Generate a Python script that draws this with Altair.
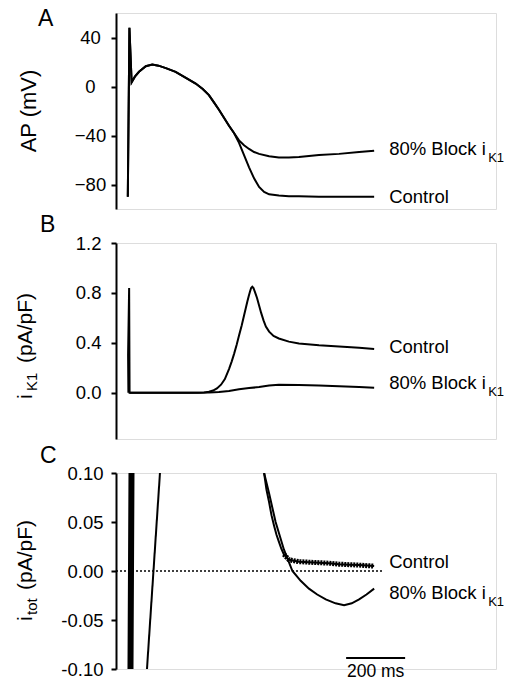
import altair as alt
import pandas as pd

FONT = "Liberation Sans"

# ---------------- data (time in ms after stimulus) ----------------
# Panel A: action potential (mV)
AP_T = [-4, 1.5, 9, 20, 34, 57, 79, 100, 125, 158, 190, 226, 250, 271, 288, 305, 322, 339, 356]
AP_V = [-90, 48, 3.5, 8, 12, 16.6, 18, 17, 15, 12, 7.5, 2.4, -2, -7, -13, -19, -25.5, -32, -38]
AP_CTRL_T = [373, 390, 407, 424, 441, 458, 475, 508, 542, 576, 644, 712, 780, 831]
AP_CTRL_V = [-46, -56, -66, -75, -82, -86, -88, -89, -89.5, -89.5, -90, -90, -90, -90]
AP_BLOCK_T = [373, 390, 407, 424, 441, 475, 508, 542, 576, 644, 712, 780, 831]
AP_BLOCK_V = [-44, -48, -51, -53.5, -55, -57, -58, -58, -57.5, -56, -55, -53.5, -52.5]

# Panel B: iK1 (pA/pF)
IK1_CTRL_T = [-2, -3, 0.5, 2, 10, 100, 200, 237, 254, 271, 285, 298, 312, 325, 339, 348, 356,
              365, 373, 382, 390, 396, 401, 406, 410, 414, 418, 422, 428, 434, 441, 448, 456,
              464, 475, 490, 508, 542, 576, 644, 712, 780, 831]
IK1_CTRL_V = [0, 0.3, 0.84, 0.0, 0.0, 0.0, 0.0, 0.001, 0.003, 0.008, 0.018, 0.035, 0.065, 0.11,
              0.19, 0.25, 0.31, 0.385, 0.46, 0.54, 0.62, 0.68, 0.73, 0.775, 0.81, 0.84, 0.85,
              0.84, 0.80, 0.76, 0.70, 0.64, 0.58, 0.53, 0.49, 0.455, 0.435, 0.41, 0.395, 0.38,
              0.37, 0.36, 0.35]
IK1_BLOCK_T = [2, 100, 200, 271, 305, 339, 373, 407, 441, 475, 508, 576, 644, 712, 780, 831]
IK1_BLOCK_V = [0, 0, 0, 0.003, 0.007, 0.015, 0.028, 0.038, 0.046, 0.058, 0.065, 0.062, 0.058,
               0.052, 0.046, 0.04]

# Panel C: itot (pA/pF)
ITOT_STIM_T = [-1.7, 1.7, 5.1, 8.5, 11.9, 15.3]
ITOT_STIM_V = [-0.1, 0.1, -0.1, 0.1, -0.1, 0.1]
ITOT_UP_T = [61, 105]
ITOT_UP_V = [-0.1, 0.1]
ITOT_CTRL_T = [458, 466, 475, 483, 492, 500, 508, 516, 525, 542, 576, 610, 644, 678, 712, 746, 780, 831]
ITOT_CTRL_V = [0.1, 0.083, 0.07, 0.057, 0.046, 0.037, 0.03, 0.023, 0.017, 0.0115, 0.0095, 0.009,
               0.0085, 0.008, 0.007, 0.0065, 0.006, 0.005]
ITOT_BLOCK_T = [458, 475, 497, 525, 554, 582, 610, 638, 667, 700, 729, 755, 780, 805, 831]
ITOT_BLOCK_V = [0.1, 0.079, 0.05, 0.022, 0.0, -0.01, -0.018, -0.024, -0.029, -0.033, -0.035,
                -0.033, -0.029, -0.024, -0.018]
ZERO_LINE_END = 861
SCALE_BAR = [736, 936]   # 200 ms
SCALE_BAR_Y = -0.0888

X_DOMAIN = [-44, 1244]
W, H = 380, 196

xs = alt.Scale(domain=X_DOMAIN, nice=False, zero=False)


def frame(pairs):
    rows = []
    for name, ts, vs in pairs:
        for k, (t, v) in enumerate(zip(ts, vs)):
            rows.append({"t": t, "v": v, "s": name, "i": k})
    return pd.DataFrame(rows)


def axis(values, fmt, pad, align, expr=None):
    kw = dict(values=values, format=fmt, title=None, grid=False, domainColor="black",
              domainWidth=2, tickColor="black", tickWidth=2, tickSize=5,
              labelFont=FONT, labelFontSize=18.5, labelColor="black",
              labelPadding=pad, labelAlign=align, labelBaseline="middle")
    if expr:
        kw["labelExpr"] = expr
    return alt.Axis(**kw)


def lines(df, ys, ax, width=2):
    return alt.Chart(df).mark_line(color="black", strokeWidth=width, clip=True).encode(
        x=alt.X("t:Q", scale=xs, axis=None),
        y=alt.Y("v:Q", scale=ys, axis=ax),
        detail="s:N",
        order="i:Q",
    )


def txt(text, x, y, size, angle=0, align="left", baseline="alphabetic"):
    kw = dict(fontSize=size, font=FONT, color="black", align=align, baseline=baseline)
    if angle:
        kw["angle"] = angle
    return alt.Chart(pd.DataFrame({"a": [0]})).mark_text(**kw).encode(
        x=alt.value(x), y=alt.value(y), text=alt.value(text))


def end_label(t, v, ys, text, dy, sub=None):
    d = pd.DataFrame({"t": [t], "v": [v]})
    layers = [alt.Chart(d).mark_text(align="left", baseline="middle", dx=15, dy=dy,
                                     fontSize=18.5, font=FONT, color="black").encode(
        x=alt.X("t:Q", scale=xs), y=alt.Y("v:Q", scale=ys), text=alt.value(text))]
    if sub:
        layers.append(alt.Chart(d).mark_text(align="left", baseline="middle", dx=114, dy=dy + 9,
                                             fontSize=13, font=FONT, color="black").encode(
            x=alt.X("t:Q", scale=xs), y=alt.Y("v:Q", scale=ys), text=alt.value(sub)))
    return layers


# ---------------- Panel A ----------------
ysA = alt.Scale(domain=[-100, 60], nice=False, zero=False)
dfA = frame([
    ("ctrl", AP_T + AP_CTRL_T, AP_V + AP_CTRL_V),
    ("block", AP_T + AP_BLOCK_T, AP_V + AP_BLOCK_V),
])
panelA = alt.layer(
    lines(dfA, ysA, axis([40, 0, -40, -80], "d", 21, "center")),
    *end_label(AP_BLOCK_T[-1], AP_BLOCK_V[-1], ysA, "80% Block i", -2, "K1"),
    *end_label(AP_CTRL_T[-1], AP_CTRL_V[-1], ysA, "Control", 0),
    txt("AP (mV)", -80, H / 2, 22, angle=270, align="center"),
    txt("A", -78, 13, 23),
).properties(width=W, height=H)

# ---------------- Panel B ----------------
ysB = alt.Scale(domain=[-0.37, 1.2], nice=False, zero=False)
dfB = frame([
    ("ctrl", IK1_CTRL_T, IK1_CTRL_V),
    ("block", IK1_BLOCK_T, IK1_BLOCK_V),
])
panelB = alt.layer(
    lines(dfB, ysB, axis([0, 0.4, 0.8, 1.2], ".1f", 10, "right")),
    *end_label(IK1_CTRL_T[-1], IK1_CTRL_V[-1], ysB, "Control", -2),
    *end_label(IK1_BLOCK_T[-1], IK1_BLOCK_V[-1], ysB, "80% Block i", -5, "K1"),
    txt("i", -84, 156, 21, angle=270),
    txt("K1", -79, 148, 15, angle=270),
    txt("(pA/pF)", -84, 120, 21, angle=270),
    txt("B", -76, -11, 23),
).properties(width=W, height=H)

# ---------------- Panel C ----------------
ysC = alt.Scale(domain=[-0.1, 0.1], nice=False, zero=False)
dfC = frame([
    ("stim", ITOT_STIM_T, ITOT_STIM_V),
    ("up", ITOT_UP_T, ITOT_UP_V),
    ("ctrl", ITOT_CTRL_T, ITOT_CTRL_V),
    ("block", ITOT_BLOCK_T, ITOT_BLOCK_V),
])
band = dfC[(dfC.s == "ctrl") & (dfC.t >= 525)]
zero = pd.DataFrame({"t": [X_DOMAIN[0]], "t2": [ZERO_LINE_END], "v": [0.0]})
bar = pd.DataFrame({"t": [SCALE_BAR[0]], "t2": [SCALE_BAR[1]], "v": [SCALE_BAR_Y],
                    "mid": [(SCALE_BAR[0] + SCALE_BAR[1]) / 2]})
panelC = alt.layer(
    alt.Chart(zero).mark_rule(color="black", strokeWidth=1.5, strokeDash=[2, 2]).encode(
        x=alt.X("t:Q", scale=xs, axis=None), x2="t2:Q", y=alt.Y("v:Q", scale=ysC)),
    lines(dfC, ysC, axis([-0.1, -0.05, 0, 0.05, 0.1], ".2f", 8, "right",
                         "replace(datum.label, '\u2212', '-')")),
    alt.Chart(band).mark_line(color="black", strokeWidth=5, strokeDash=[2, 1]).encode(
        x=alt.X("t:Q", scale=xs), y=alt.Y("v:Q", scale=ysC), order="i:Q"),
    alt.Chart(bar).mark_rule(color="black", strokeWidth=2).encode(
        x=alt.X("t:Q", scale=xs), x2="t2:Q", y=alt.Y("v:Q", scale=ysC)),
    alt.Chart(bar).mark_text(fontSize=17.5, font=FONT, color="black", baseline="middle", dy=14).encode(
        x=alt.X("mid:Q", scale=xs), y=alt.Y("v:Q", scale=ysC), text=alt.value("200 ms")),
    *end_label(ITOT_CTRL_T[-1], ITOT_CTRL_V[-1], ysC, "Control", -4),
    *end_label(ITOT_BLOCK_T[-1], ITOT_BLOCK_V[-1], ysC, "80% Block i", 4, "K1"),
    txt("i", -84, 148, 21, angle=270),
    txt("tot", -79, 142, 15, angle=270),
    txt("(pA/pF)", -84, 117, 21, angle=270),
    txt("C", -76, -10, 23),
).properties(width=W, height=H)

chart = alt.vconcat(panelA, panelB, panelC, spacing=34, bounds="flush").properties(
    padding={"left": 14, "top": 7, "right": 0, "bottom": 0}
).configure_view(stroke=None).configure(background="white")

chart.save("out.html", embed_options={"renderer": "svg", "actions": False})
